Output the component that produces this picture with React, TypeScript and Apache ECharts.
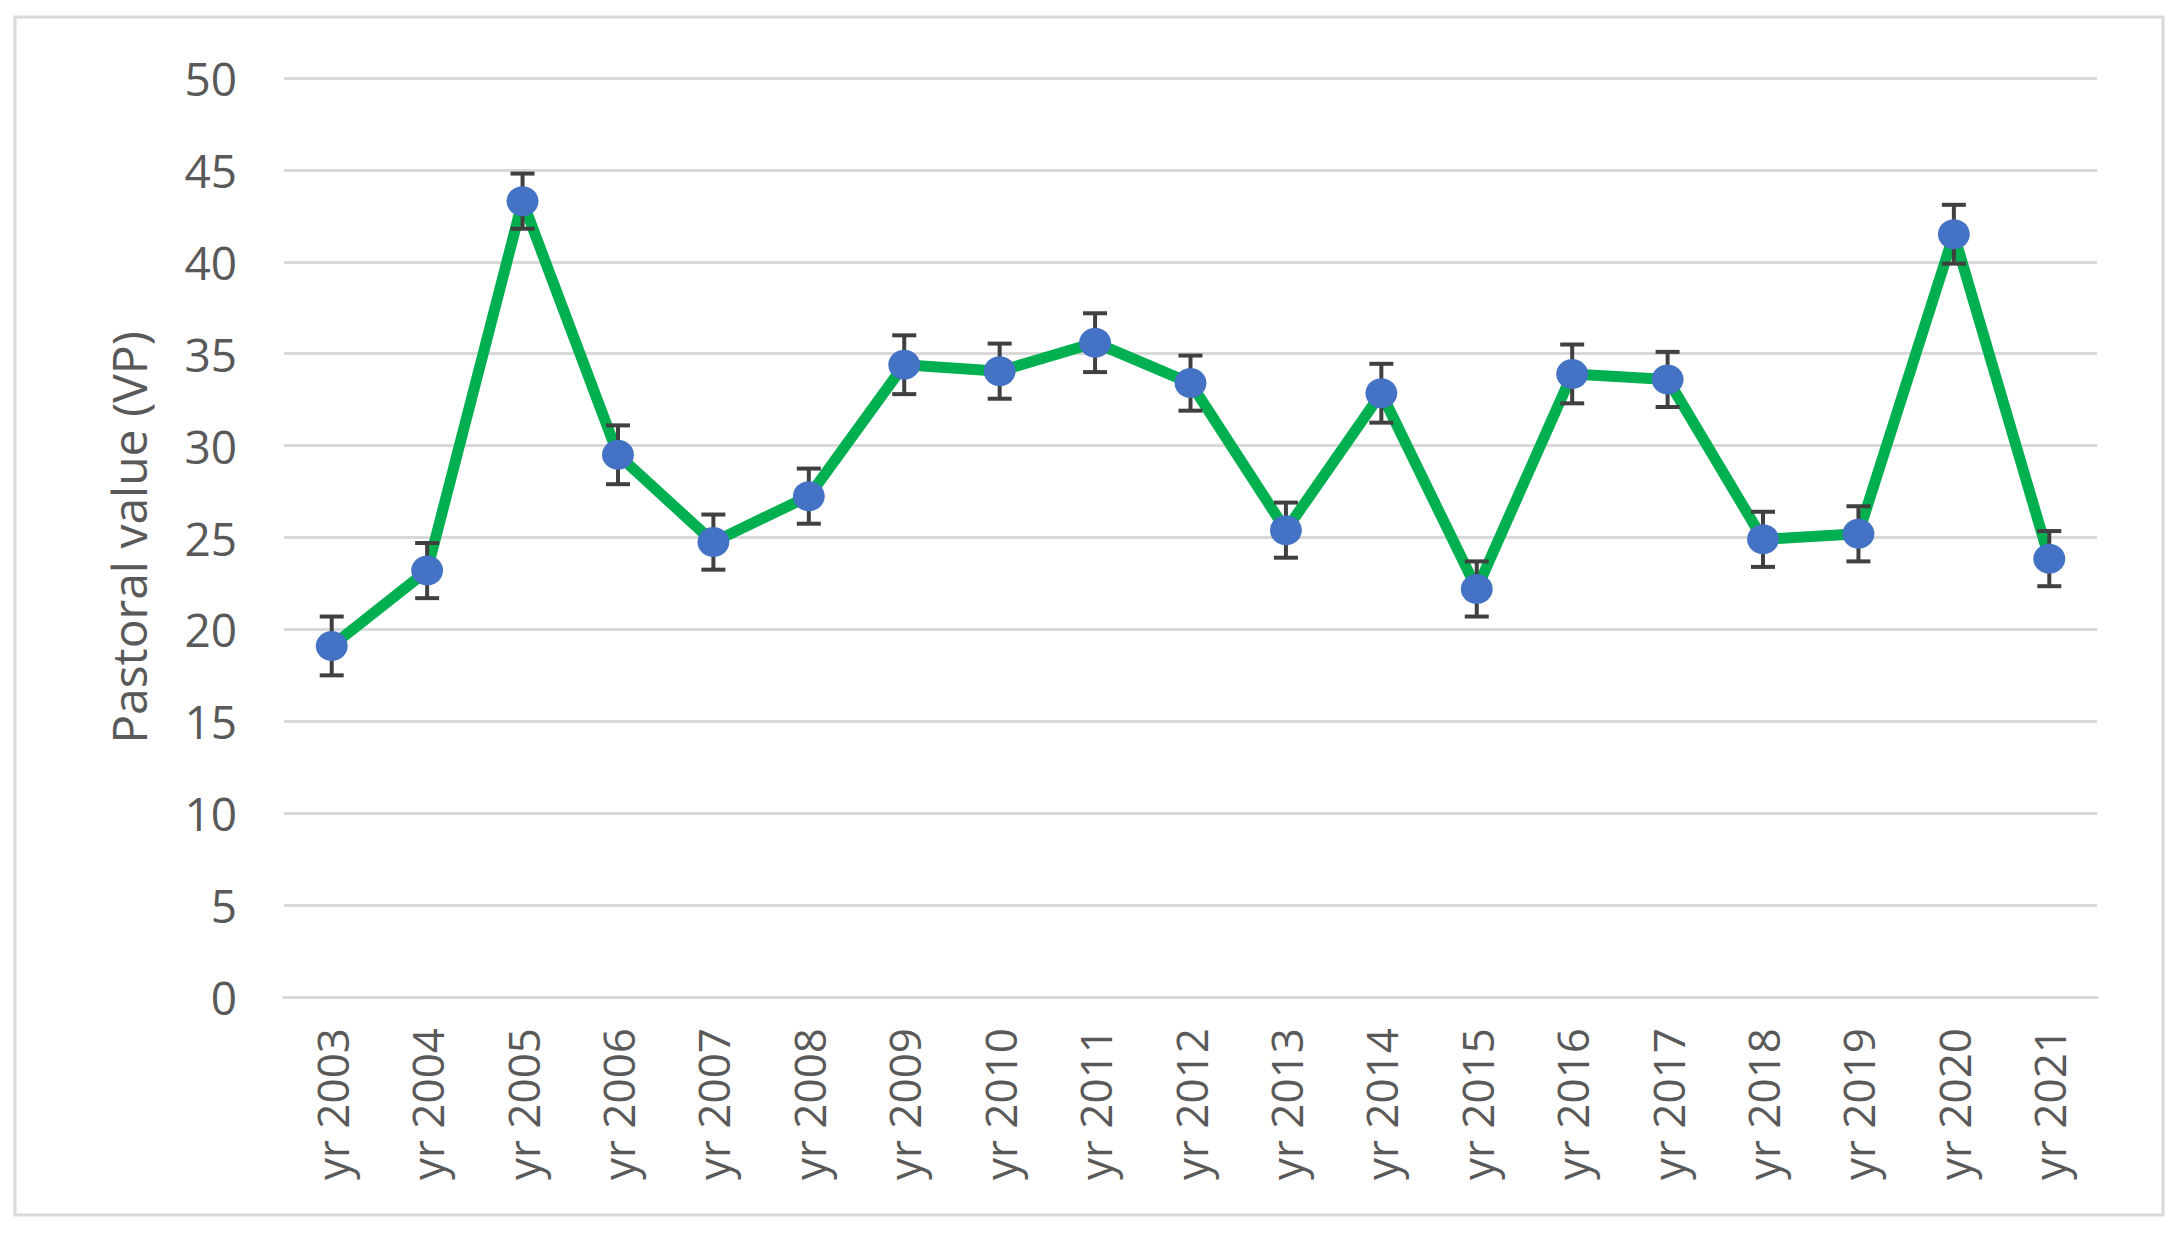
import React, { useEffect, useRef } from "react";
import * as echarts from "echarts";

const categories = [
  "yr 2003", "yr 2004", "yr 2005", "yr 2006", "yr 2007", "yr 2008", "yr 2009",
  "yr 2010", "yr 2011", "yr 2012", "yr 2013", "yr 2014", "yr 2015", "yr 2016",
  "yr 2017", "yr 2018", "yr 2019", "yr 2020", "yr 2021",
];
const pastoralValues = [
  19.1, 23.2, 43.3, 29.5, 24.75, 27.25, 34.4, 34.05, 35.6, 33.4, 25.4, 32.85,
  22.2, 33.9, 33.6, 24.9, 25.2, 41.5, 23.85,
];
const errors = [
  1.6, 1.5, 1.5, 1.6, 1.5, 1.5, 1.6, 1.5, 1.6, 1.5, 1.5, 1.6, 1.5, 1.6, 1.5,
  1.5, 1.5, 1.6, 1.5,
];
const yAxisName = "Pastoral value (VP)";

const FONT = "Open Sans";
const TEXT_COLOR = "#595959";

export default function App() {
  const ref = useRef<HTMLDivElement>(null);
  useEffect(() => {
    if (!ref.current) return;
    const chart = echarts.init(ref.current, undefined, { renderer: "svg" });
    const errData = pastoralValues.map((v, i) => [i, v - errors[i], v + errors[i]]);
    chart.setOption({
      animation: false,
      backgroundColor: "#ffffff",
      graphic: [
        {
          type: "rect",
          shape: { x: 15, y: 17, width: 2148, height: 1198 },
          style: { fill: "none", stroke: "#D9D9D9", lineWidth: 3 },
          silent: true,
        },
      ],
      grid: { left: 284, right: 82, top: 78, bottom: 241, containLabel: false },
      xAxis: {
        type: "category",
        data: categories,
        boundaryGap: true,
        axisLine: { show: true, lineStyle: { color: "#D9D9D9", width: 3 } },
        axisTick: { show: false },
        axisLabel: {
          rotate: 90,
          margin: 31,
          color: TEXT_COLOR,
          fontFamily: FONT,
          fontSize: 44,
          interval: 0,
        },
      },
      yAxis: {
        type: "value",
        min: 0,
        max: 50,
        interval: 5,
        name: yAxisName,
        nameLocation: "middle",
        nameGap: 132,
        nameTextStyle: { color: TEXT_COLOR, fontFamily: FONT, fontSize: 48 },
        axisLine: { show: false },
        axisTick: { show: false },
        axisLabel: { color: TEXT_COLOR, fontFamily: FONT, fontSize: 46, margin: 47 },
        splitLine: { lineStyle: { color: "#D9D9D9", width: 3 } },
      },
      series: [
        {
          type: "line",
          data: pastoralValues,
          showSymbol: false,
          symbol: "none",
          lineStyle: { color: "#00B050", width: 11 },
          z: 2,
        },
        {
          type: "custom",
          data: errData,
          encode: { x: 0, y: [1, 2] },
          z: 3,
          renderItem: (params: any, api: any) => {
            const idx = api.value(0);
            const top = api.coord([idx, api.value(2)]);
            const bot = api.coord([idx, api.value(1)]);
            const hw = 12;
            const style = { stroke: "#404040", lineWidth: 4 };
            return {
              type: "group",
              children: [
                { type: "line", shape: { x1: top[0], y1: top[1], x2: bot[0], y2: bot[1] }, style },
                { type: "line", shape: { x1: top[0] - hw, y1: top[1], x2: top[0] + hw, y2: top[1] }, style },
                { type: "line", shape: { x1: bot[0] - hw, y1: bot[1], x2: bot[0] + hw, y2: bot[1] }, style },
              ],
            };
          },
        },
        {
          type: "scatter",
          data: pastoralValues,
          symbol: "circle",
          symbolSize: [32, 30],
          itemStyle: { color: "#4472C4", opacity: 1 },
          z: 4,
        },
      ],
    });
    return () => chart.dispose();
  }, []);
  return (
    <div
      ref={ref}
      style={{ position: "fixed", left: 0, top: 0, width: 2179, height: 1238 }}
    />
  );
}
